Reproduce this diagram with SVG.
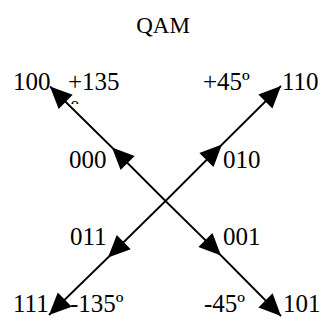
<svg xmlns="http://www.w3.org/2000/svg" width="323" height="327" viewBox="0 0 323 327">
<style>
text{font-family:"Liberation Serif","Times New Roman",serif;font-size:25px;fill:#000}
.ln{fill:none;stroke:#000;stroke-width:1.8;marker-mid:url(#ah);marker-end:url(#ah)}
</style>
<defs>
<marker id="ah" markerUnits="userSpaceOnUse" markerWidth="30" markerHeight="30" refX="0" refY="0" orient="auto" overflow="visible" viewBox="-25 -15 30 30">
<path d="M0,0 L-22,-10 L-22,10 Z" fill="#000"/>
</marker>
<clipPath id="cp"><rect x="60" y="95" width="30" height="9"/></clipPath>
</defs>
<rect width="323" height="327" fill="#fff"/>
<g id="title"><text x="163" y="33" text-anchor="middle" style="font-size:23px">QAM</text></g>
<g id="connectors">
<path class="ln" d="M165.5,201 L112,147.5 L50,86.5"/>
<path class="ln" d="M165.5,201 L222,144.5 L281,86"/>
<path class="ln" d="M165.5,201 L108,257.5 L49,315"/>
<path class="ln" d="M165.5,201 L221,255.5 L281,316"/>
</g>
<g id="n100"><text x="13" y="90">100</text></g>
<g id="a135"><text x="68" y="90">+135</text><text x="71" y="118" clip-path="url(#cp)">º</text></g>
<g id="a45"><text x="203" y="90">+45º</text></g>
<g id="n110"><text x="282" y="90">110</text></g>
<g id="n000"><text x="69" y="168">000</text></g>
<g id="n010"><text x="223" y="168">010</text></g>
<g id="n011"><text x="70" y="245">011</text></g>
<g id="n001"><text x="223" y="245">001</text></g>
<g id="n111"><text x="13" y="312">111</text></g>
<g id="am135"><text x="70" y="312">-135º</text></g>
<g id="am45"><text x="204" y="312">-45º</text></g>
<g id="n101"><text x="283" y="312">101</text></g>
</svg>
